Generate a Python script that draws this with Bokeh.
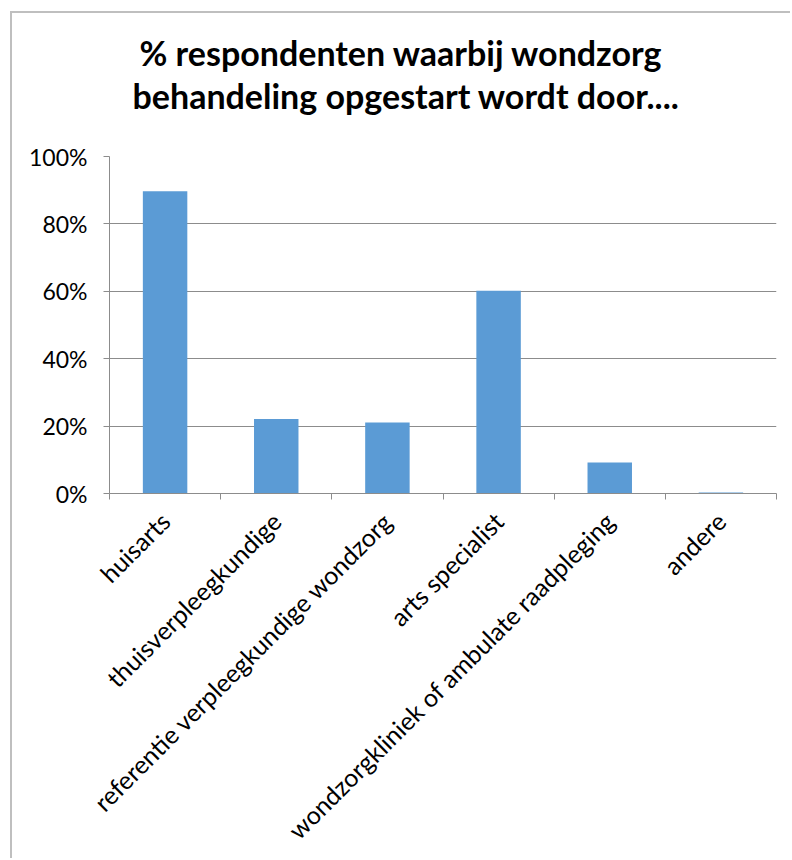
import math
from bokeh.plotting import figure
from bokeh.models import Range1d, FixedTicker, NumeralTickFormatter, Title
from bokeh.embed import file_html
from bokeh.resources import INLINE

# ---- data ----
categories = [
    "huisarts",
    "thuisverpleegkundige",
    "referentie verpleegkundige wondzorg",
    "arts specialist",
    "wondzorgkliniek of ambulate raadpleging",
    "andere",
]
values = [0.897, 0.221, 0.211, 0.602, 0.092, 0.003]
y_ticks = [0, 0.2, 0.4, 0.6, 0.8, 1.0]
title_lines = ["% respondenten waarbij wondzorg", "behandeling opgestart wordt door...."]

# ---- derived positions ----
n = len(categories)
centers = [i + 0.5 for i in range(n)]
bounds = [float(i) for i in range(n + 1)]

GRAY = "#8C8C8C"
FONT = "Lato"

p = figure(
    width=780, height=847,
    x_range=Range1d(0, n), y_range=Range1d(0, 1),
    output_backend="svg", toolbar_location=None,
    min_border_left=97, min_border_right=16,
    min_border_top=143, min_border_bottom=367,
)
p.margin = (11, 0, 0, 10)
p.styles = {"border-left": "2px solid #BFBFBF", "border-top": "2px solid #BFBFBF"}
p.outline_line_color = None
p.background_fill_color = "white"
p.border_fill_color = "white"

p.vbar(x=centers, top=values, width=0.4, fill_color="#5B9BD5", line_color=None)

# y axis
p.yaxis.ticker = FixedTicker(ticks=y_ticks)
p.yaxis.formatter = NumeralTickFormatter(format="0%")
p.yaxis.axis_line_color = GRAY
p.yaxis.major_tick_line_color = GRAY
p.yaxis.major_tick_out = 6
p.yaxis.major_tick_in = 0
p.yaxis.minor_tick_line_color = None
p.yaxis.major_label_standoff = 16
p.yaxis.major_label_text_font = FONT
p.yaxis.major_label_text_font_size = "23px"
p.yaxis.major_label_text_color = "#000000"

# x axis: labels at centers, tick marks at category boundaries
p.xaxis.ticker = FixedTicker(ticks=centers, minor_ticks=bounds)
p.xaxis.major_label_overrides = {c: lab for c, lab in zip(centers, categories)}
p.xaxis.axis_line_color = GRAY
p.xaxis.major_tick_line_color = None
p.xaxis.major_tick_out = 0
p.xaxis.major_tick_in = 0
p.xaxis.minor_tick_line_color = GRAY
p.xaxis.minor_tick_out = 6
p.xaxis.minor_tick_in = 0
p.xaxis.major_label_orientation = math.pi / 4
p.xaxis.major_label_standoff = 17
p.xaxis.major_label_text_font = FONT
p.xaxis.major_label_text_font_size = "25px"
p.xaxis.major_label_text_color = "#000000"

# grid
p.xgrid.grid_line_color = None
p.ygrid.ticker = FixedTicker(ticks=y_ticks)
p.ygrid.grid_line_color = GRAY
p.ygrid.grid_line_width = 1

# title: two lines, stacked above a spacer next to the plot frame
spacer = Title(text="\u00a0", standoff=38, text_font_size="1px", text_color="white")
t2 = Title(text=title_lines[1], align="left", offset=23, standoff=0,
           text_font=FONT, text_font_style="bold", text_font_size="34px",
           text_color="#000000")
t1 = Title(text=title_lines[0], align="left", offset=30, standoff=0,
           text_font=FONT, text_font_style="bold", text_font_size="34px",
           text_color="#000000")
p.add_layout(spacer, "above")
p.add_layout(t2, "above")
p.add_layout(t1, "above")

open("out.html", "w").write(file_html(p, INLINE))
